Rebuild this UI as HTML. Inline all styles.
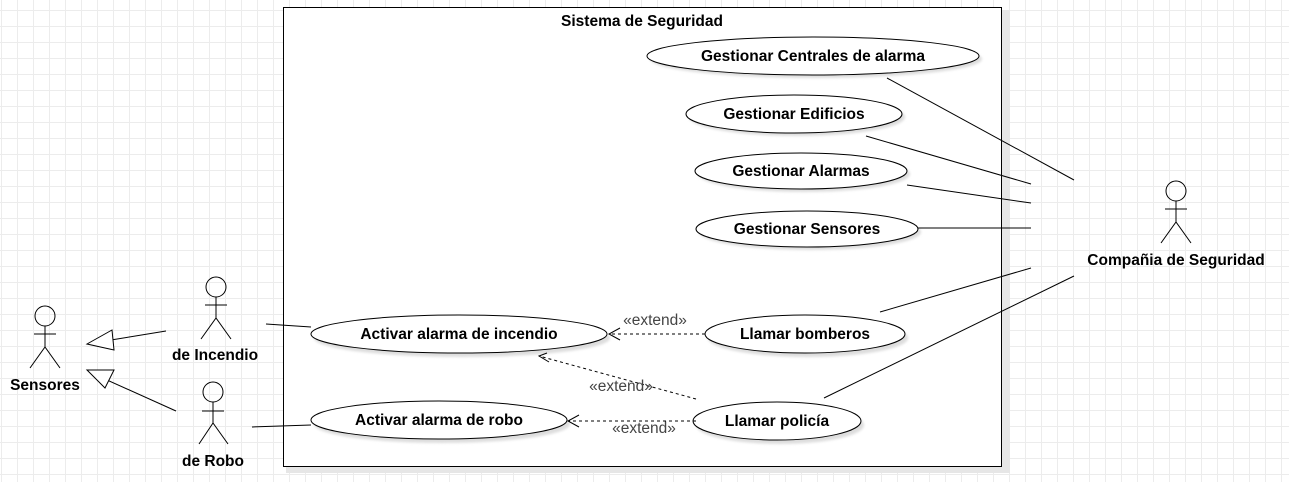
<!DOCTYPE html>
<html><head><meta charset="utf-8"><style>
html,body{margin:0;padding:0;background:#fff;}
body{width:1289px;height:482px;overflow:hidden;
background-image:linear-gradient(to right,#ececec 1px,transparent 1px),linear-gradient(to bottom,#ececec 1px,transparent 1px);
background-size:16px 16px;background-position:1px 10px;}
svg{position:absolute;left:0;top:0;}
text{font-family:"Liberation Sans",sans-serif;font-size:15.5px;}
.b{font-weight:bold;fill:#000;}
.e{fill:#444;}
</style></head><body>
<svg width="1289" height="482" viewBox="0 0 1289 482">
<defs><filter id="s" x="-10%" y="-20%" width="130%" height="160%"><feGaussianBlur stdDeviation="1.2"/></filter></defs>
<rect x="1002" y="10" width="8" height="462" fill="#e6e6e6"/>
<rect x="286" y="467" width="724" height="6" fill="#e6e6e6"/>
<rect x="283.5" y="7.5" width="718" height="459" fill="#fff" stroke="#000" stroke-width="1"/>
<text class="b" x="642" y="26" text-anchor="middle">Sistema de Seguridad</text>
<g fill="#ddd" filter="url(#s)">
<ellipse cx="816" cy="59" rx="166" ry="19"/>
<ellipse cx="797" cy="117" rx="108" ry="19"/>
<ellipse cx="804" cy="174" rx="106" ry="18"/>
<ellipse cx="810" cy="232" rx="111" ry="18"/>
<ellipse cx="462" cy="338" rx="148" ry="19"/>
<ellipse cx="808" cy="338" rx="100" ry="19"/>
<ellipse cx="442" cy="424" rx="128" ry="19"/>
<ellipse cx="780" cy="425" rx="84" ry="19"/>
</g>
<g fill="#fff" stroke="#000" stroke-width="1">
<ellipse cx="813" cy="56" rx="166" ry="19"/>
<ellipse cx="794" cy="114" rx="108" ry="19"/>
<ellipse cx="801" cy="171" rx="106" ry="18"/>
<ellipse cx="807" cy="229" rx="111" ry="18"/>
<ellipse cx="459" cy="334" rx="148" ry="19"/>
<ellipse cx="805" cy="334" rx="100" ry="19"/>
<ellipse cx="439" cy="420" rx="128" ry="19"/>
<ellipse cx="777" cy="421" rx="84" ry="19"/>
</g>
<text class="b" x="813" y="61" text-anchor="middle">Gestionar Centrales de alarma</text>
<text class="b" x="794" y="119" text-anchor="middle">Gestionar Edificios</text>
<text class="b" x="801" y="176" text-anchor="middle">Gestionar Alarmas</text>
<text class="b" x="807" y="234" text-anchor="middle">Gestionar Sensores</text>
<text class="b" x="459" y="339" text-anchor="middle">Activar alarma de incendio</text>
<text class="b" x="805" y="339" text-anchor="middle">Llamar bomberos</text>
<text class="b" x="439" y="425" text-anchor="middle">Activar alarma de robo</text>
<text class="b" x="777" y="426" text-anchor="middle">Llamar policía</text>
<g stroke="#000" stroke-width="1" fill="none">
<line x1="887" y1="78" x2="1074" y2="180"/>
<line x1="866" y1="136" x2="1031" y2="184"/>
<line x1="907" y1="185" x2="1031" y2="203"/>
<line x1="918" y1="228" x2="1031" y2="228"/>
<line x1="880" y1="312" x2="1031" y2="268"/>
<line x1="824" y1="398" x2="1074" y2="276"/>
<line x1="266" y1="324" x2="311" y2="327"/>
<line x1="252" y1="427" x2="311" y2="425"/>
<line x1="166" y1="331" x2="111" y2="340"/>
<polygon points="87,344 112,330 114,350" fill="#fff"/>
<line x1="176" y1="411" x2="107" y2="380"/>
<polygon points="87,370 114,370 105,388" fill="#fff"/>
<g stroke-dasharray="3,3">
<line x1="705" y1="334" x2="609" y2="334"/>
<line x1="696" y1="399" x2="539" y2="356"/>
<line x1="696" y1="421" x2="568" y2="421"/>
</g>
<polyline points="620,328 609,334 620,340"/>
<polyline points="547,353 539,356 549,362"/>
<polyline points="579,415 568,421 579,427"/>
<circle cx="1176" cy="191" r="10"/><line x1="1176" y1="201" x2="1176" y2="222"/><line x1="1165" y1="209" x2="1187" y2="209"/><polyline points="1161,243 1176,222 1191,243"/>
<circle cx="45" cy="316" r="10"/><line x1="45" y1="326" x2="45" y2="347"/><line x1="34" y1="334" x2="56" y2="334"/><polyline points="30,368 45,347 60,368"/>
<circle cx="216" cy="287" r="10"/><line x1="216" y1="297" x2="216" y2="318"/><line x1="205" y1="305" x2="227" y2="305"/><polyline points="201,339 216,318 231,339"/>
<circle cx="213" cy="392" r="10"/><line x1="213" y1="402" x2="213" y2="423"/><line x1="202" y1="411" x2="224" y2="411"/><polyline points="199,444 213,423 228,444"/>
</g>
<text class="e" x="655" y="325" text-anchor="middle">«extend»</text>
<text class="e" x="621" y="391" text-anchor="middle">«extend»</text>
<text class="e" x="644" y="433" text-anchor="middle">«extend»</text>
<text class="b" x="1176" y="265" text-anchor="middle">Compañia de Seguridad</text>
<text class="b" x="45" y="390" text-anchor="middle">Sensores</text>
<text class="b" x="215" y="360" text-anchor="middle">de Incendio</text>
<text class="b" x="213" y="466" text-anchor="middle">de Robo</text>
</svg>
</body></html>
